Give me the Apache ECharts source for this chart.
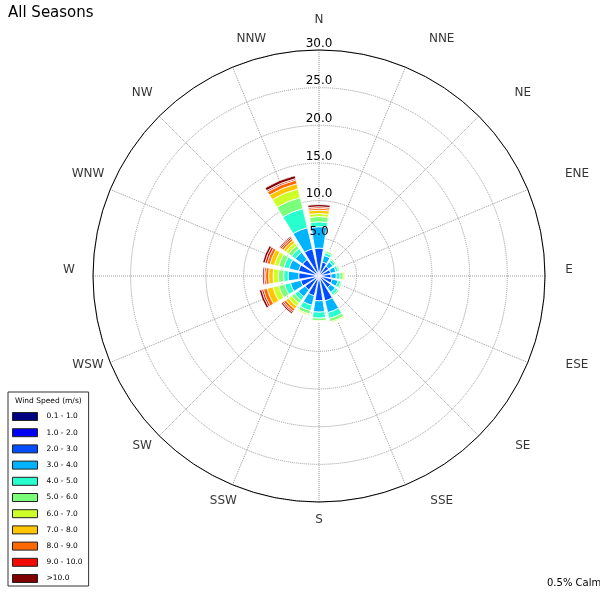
<!DOCTYPE html>
<html>
<head>
<meta charset="utf-8">
<script src="https://cdn.jsdelivr.net/npm/echarts@6/dist/echarts.min.js"></script>
<style>html,body{margin:0;padding:0;background:#fff;}#c{width:600px;height:594px;}</style>
</head>
<body>
<div id="c"></div>
<script>
// Direction categories (clockwise from North)
const directions = ['N','NNE','NE','ENE','E','ESE','SE','SSE','S','SSW','SW','WSW','W','WNW','NW','NNW'];
// Speed bins (legend labels)
const speedBins = ['0.1 - 1.0','1.0 - 2.0','2.0 - 3.0','3.0 - 4.0','4.0 - 5.0','5.0 - 6.0','6.0 - 7.0','7.0 - 8.0','8.0 - 9.0','9.0 - 10.0','>10.0'];
// Radius tick labels
const radiusTicks = [5, 10, 15, 20, 25, 30];
// Frequency (%) per speed bin, per direction (N ... NNW)
const bin0 = [0.1,0.1,0.1,0.1,0.1,0.1,0.1,0.1,0.1,0.1,0.1,0.1,0.1,0.1,0.1,0.1];
const bin1 = [0.3,0.3,0.3,0.3,0.3,0.3,0.3,0.4,0.4,0.4,0.4,0.4,0.4,0.4,0.4,0.4];
const bin2 = [3.3,1.5,1.2,1.2,1.2,1.4,1.5,2.9,2.8,2.2,1.8,2.0,2.2,2.3,2.2,3.2];
const bin3 = [2.85,0.9,0.7,0.7,0.7,0.8,0.8,1.6,1.5,1.3,1.1,1.4,1.4,1.3,1.2,2.9];
const bin4 = [0.65,0.4,0.35,0.35,0.5,0.4,0.4,0.8,0.8,0.75,0.6,0.8,0.6,0.7,0.6,2.6];
const bin5 = [0.7,0.25,0.17,0.22,0.4,0.2,0.2,0.45,0.35,0.45,0.5,0.8,0.7,0.7,0.5,1.5];
const bin6 = [0.4,0.1,0.08,0.1,0.25,0.07,0.07,0.18,0.12,0.2,0.5,0.8,0.7,0.6,0.45,1.2];
const bin7 = [0.45,0.05,0,0.03,0.1,0.03,0.03,0.05,0.03,0.07,0.45,0.8,0.6,0.6,0.4,0.7];
const bin8 = [0.25,0,0,0,0.05,0,0,0.02,0,0.03,0.35,0.5,0.4,0.4,0.3,0.5];
const bin9 = [0.2,0,0,0,0,0,0,0,0,0,0.2,0.25,0.2,0.3,0.2,0.2];
const bin10 = [0.3,0,0,0,0,0,0,0,0,0,0.2,0.3,0.2,0.3,0.15,0.4];
const binColors = ['#000080','#0000f4','#004dff','#00b3ff','#29ffce','#7bff7b','#ceff29','#ffc600','#ff6800','#f30900','#800000'];
const calmText = '0.5% Calm';
// Horizontal nudges (px) of the direction labels, as placed in the reference
const labelShiftX = [0,27,27,27,0,27,27,27,0,0,0,0,0,0,0,28];

const bins = [bin0,bin1,bin2,bin3,bin4,bin5,bin6,bin7,bin8,bin9,bin10];
const FONT = 'DejaVu Sans';
const RMAX = 30;
const LABEL_R = RMAX * 250 / 226; // direction labels sit just outside the outer ring
const chart = echarts.init(document.getElementById('c'), null, {renderer:'canvas'});

const series = bins.map((d, i) => ({
  name: speedBins[i],
  type: 'bar',
  coordinateSystem: 'polar',
  polarIndex: 0,
  stack: 'ws',
  data: d,
  barCategoryGap: '20%',
  itemStyle: { color: binColors[i], borderColor: '#ffffff', borderWidth: 0.8 },
  emphasis: { disabled: true },
  z: 2
}));

// Direction labels just outside the ring
series.push({
  type: 'scatter',
  coordinateSystem: 'polar',
  polarIndex: 3,
  symbolSize: 0,
  clip: false,
  silent: true,
  z: 10,
  data: directions.map((d, i) => ({ value: [LABEL_R, d], name: d, label: { offset: [labelShiftX[i], 0] } })),
  label: { show: true, position: 'inside', formatter: '{b}', color: '#000', fontFamily: FONT, fontSize: 12 }
});

const option = {
  animation: false,
  backgroundColor: '#ffffff',
  title: [
    { text: 'All Seasons', left: 8, top: 6, padding: 0, textStyle: { fontFamily: FONT, fontSize: 15, fontWeight: 'normal', color: '#000' } },
    { text: 'Wind Speed (m/s)', left: 15, top: 397, padding: 0, textStyle: { fontFamily: FONT, fontSize: 7.5, fontWeight: 'normal', color: '#000' } },
    { text: calmText, left: 547, top: 578, padding: 0, textStyle: { fontFamily: FONT, fontSize: 10, fontWeight: 'normal', color: '#000' } }
  ],
  legend: {
    data: speedBins,
    orient: 'vertical',
    left: 8, top: 392,
    padding: [20, 6, 3, 4],
    itemWidth: 25, itemHeight: 8, itemGap: 7.2,
    icon: 'rect',
    borderColor: '#333', borderWidth: 1,
    itemStyle: { borderColor: '#222', borderWidth: 1 },
    textStyle: { fontFamily: FONT, fontSize: 7.5, color: '#000', padding: [0,0,0,4] },
    selectedMode: false
  },
  polar: [
    { center: [319, 276], radius: 226 },
    { center: [319, 276], radius: 226 },
    { center: [319, 269.5], radius: 226 },
    { center: [319, 269.5], radius: 226 }
  ],
  angleAxis: [
    { polarIndex: 0, type: 'category', data: directions, startAngle: 101.25, boundaryGap: true,
      axisLine: {show:false}, axisTick: {show:false}, axisLabel: {show:false}, splitLine: {show:false} },
    { polarIndex: 1, type: 'value', min: 0, max: 360, interval: 22.5, startAngle: 90, z: 1,
      axisLine: {show:true, lineStyle:{color:'#000', width:1}}, axisTick:{show:false}, axisLabel:{show:false},
      splitLine: {show:true, lineStyle:{color:'#999', type:'dotted', width:1}} },
    { polarIndex: 2, type: 'value', min: 0, max: 360, interval: 22.5, startAngle: 90,
      axisLine:{show:false}, axisTick:{show:false}, splitLine:{show:false}, axisLabel:{show:false} },
    { polarIndex: 3, type: 'category', data: directions, startAngle: 101.25, boundaryGap: true,
      axisLine: {show:false}, axisTick: {show:false}, axisLabel: {show:false}, splitLine: {show:false} }
  ],
  radiusAxis: [
    { polarIndex: 0, type: 'value', min: 0, max: RMAX,
      axisLine:{show:false}, axisTick:{show:false}, axisLabel:{show:false}, splitLine:{show:false} },
    { polarIndex: 1, type: 'value', min: 0, max: RMAX, interval: 5, z: 1,
      axisLine:{show:false}, axisTick:{show:false}, axisLabel:{show:false},
      splitLine: {show:true, lineStyle:{color:'#999', type:'dotted', width:1}} },
    { polarIndex: 2, type: 'value', min: 0, max: RMAX, interval: 5, z: 10,
      axisLine:{show:false}, axisTick:{show:false}, splitLine:{show:false},
      axisLabel: { show:true, margin: 0, align:'center', verticalAlign:'middle', color:'#000', fontFamily: FONT, fontSize: 12,
        formatter: v => radiusTicks.includes(v) ? v.toFixed(1) : '' } },
    { polarIndex: 3, type: 'value', min: 0, max: RMAX,
      axisLine:{show:false}, axisTick:{show:false}, axisLabel:{show:false}, splitLine:{show:false} }
  ],
  series: series
};
chart.setOption(option);
</script>
</body>
</html>
